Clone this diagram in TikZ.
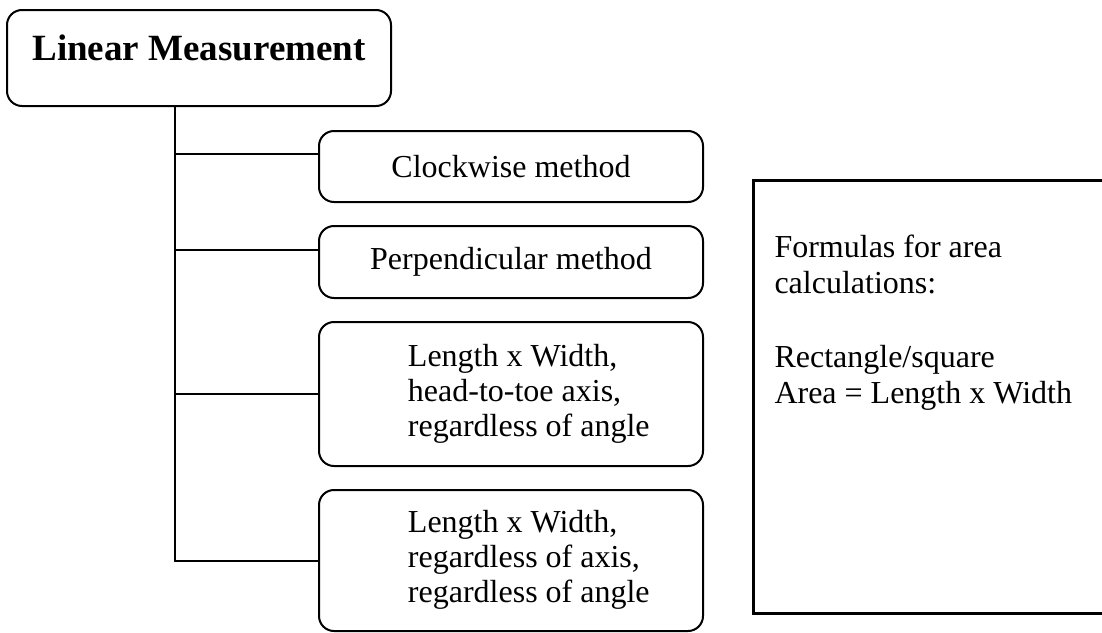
\documentclass[tikz,border=0pt]{standalone}
\usepackage{fontspec}
\setmainfont{Liberation Serif}
\usetikzlibrary{positioning}
\newcommand{\leafrows}[1]{\begin{tabular}{@{\hspace{17.8pt}}l@{}}#1\end{tabular}}

\begin{document}
\begin{tikzpicture}[x=0.5pt, y=-0.5pt, node distance=12pt, line width=1pt,
    head/.style = {draw, rounded corners=7.5pt, inner sep=0pt, outer sep=0pt, minimum width=192pt, text height=25pt, text depth=23pt, font=\fontsize{18.5}{22}\selectfont\bfseries},
    leaf/.style = {draw, rounded corners=7.5pt, inner sep=0pt, outer sep=0pt, minimum width=192pt, font=\fontsize{16}{17.5}\selectfont},
    note/.style = {draw, line width=1.5pt, align=flush left, text width=156pt, inner xsep=10.5pt, inner ysep=0pt, text height=38.5pt, text depth=178pt, font=\fontsize{16}{18}\selectfont}]
    \useasboundingbox (0,0) rectangle (1102,632);
    \clip (0,0) rectangle (1102,632);
    \node[head, anchor=base] (1) at (199,60) {Linear Measurement};
    \node[leaf, minimum height=35.5pt] (2) [below=12.5pt of 1, xshift=156pt] {Clockwise method};
    \node[leaf, minimum height=36pt] (3) [below=of 2] {Perpendicular method};
    \node[leaf, minimum height=72pt] (4) [below=of 3] {\leafrows{Length x Width,\\ head-to-toe axis,\\ regardless of angle}};
    \node[leaf, minimum height=70.5pt] (5) [below=of 4] {\leafrows{Length x Width,\\ regardless of axis,\\ regardless of angle}};
    \node[note, anchor=base west] (6) at (752,257) {Formulas for area\\calculations:\\[19pt]Rectangle/square\\Area = Length x Width};

    % tree lines
    \coordinate (t) at (175,0);
    \coordinate (b2) at ([yshift=6.25pt]2.west);
    \coordinate (b3) at ([yshift=6pt]3.west);
    \draw (t |- 1.south) -- (t |- 5.west) -- (5.west);
    \draw (t |- 4.west) -- (4.west);
    \draw (t |- b3) -- (b3);
    \draw (t |- b2) -- (b2);
\end{tikzpicture}
\end{document}
